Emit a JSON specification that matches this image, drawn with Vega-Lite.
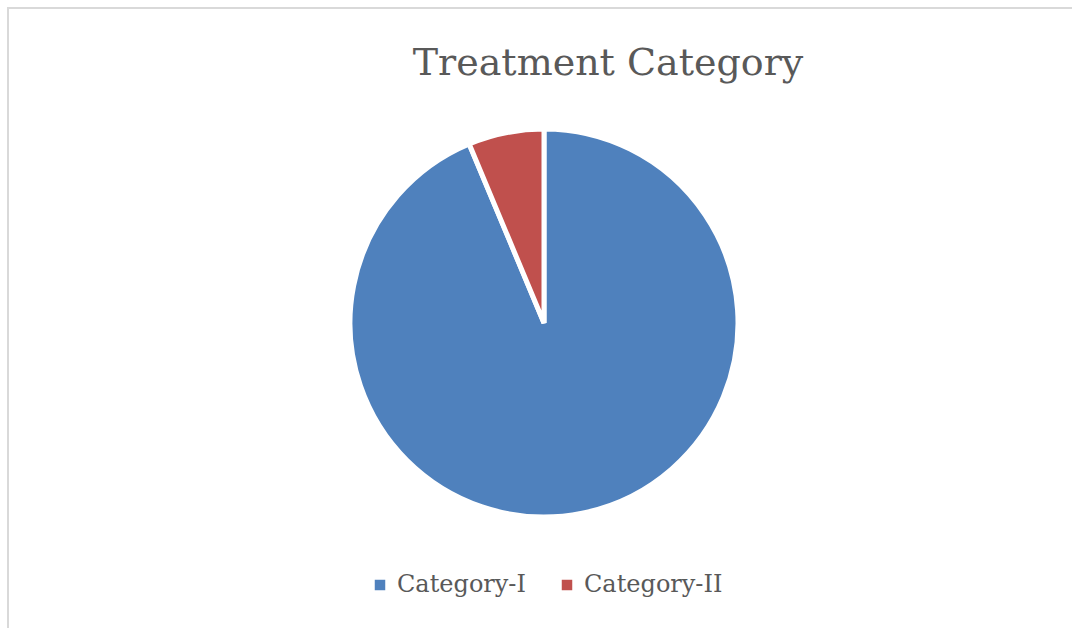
{
  "$schema": "https://vega.github.io/schema/vega-lite/v6.json",
  "autosize": {"type": "none"},
  "width": 1072,
  "height": 630,
  "padding": {"left": 8, "top": 8, "right": 0, "bottom": 0},
  "background": "white",
  "config": {
    "view": {"stroke": null}
  },
  "title": {
    "text": "Treatment Category",
    "font": "DejaVu Serif",
    "fontSize": 38,
    "fontWeight": "normal",
    "color": "#595959",
    "anchor": "middle",
    "frame": "group",
    "baseline": "alphabetic",
    "dx": 64,
    "offset": -106
  },
  "data": {
    "values": [
      {"category": "Category-I", "value": 93.7},
      {"category": "Category-II", "value": 6.3}
    ]
  },
  "layer": [
    {
      "data": {"values": [{"frame": 1}]},
      "mark": {"type": "rect", "fill": null, "stroke": "#d9d9d9", "strokeWidth": 2},
      "encoding": {}
    },
    {
      "mark": {"type": "arc", "radius": 194, "stroke": "white", "strokeWidth": 5},
      "encoding": {
        "theta": {"field": "value", "type": "quantitative", "stack": true},
        "color": {
          "field": "category",
          "type": "nominal",
          "scale": {"domain": ["Category-I", "Category-II"], "range": ["#4F81BD", "#C0504D"]},
          "legend": {
            "title": null,
            "orient": "none",
            "direction": "horizontal",
            "legendX": 360,
            "legendY": 565,
            "padding": 0,
            "symbolType": "square",
            "symbolSize": 110,
            "symbolStrokeWidth": 0,
            "labelFont": "DejaVu Serif",
            "labelFontSize": 24,
            "labelColor": "#595959",
            "labelOffset": 5,
            "columnPadding": 29
          }
        }
      }
    }
  ]
}
